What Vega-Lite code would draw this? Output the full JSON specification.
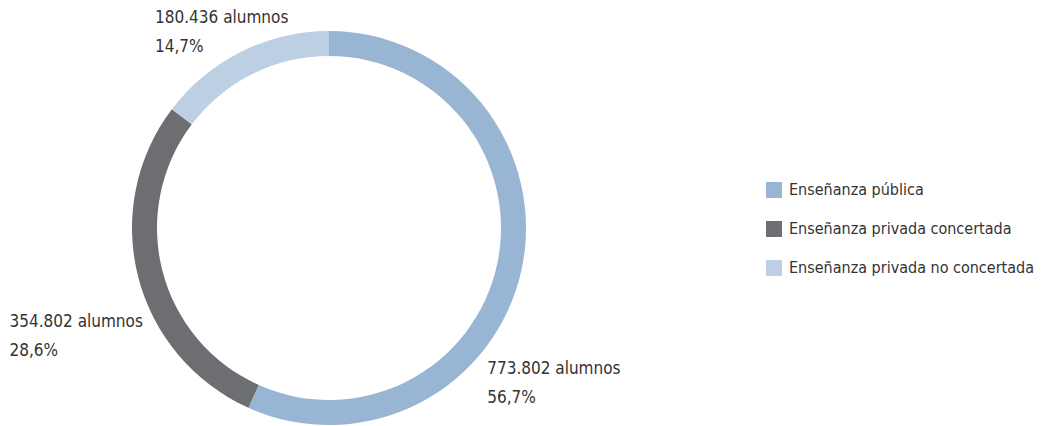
{
  "$schema": "https://vega.github.io/schema/vega-lite/v6.json",
  "width": 658,
  "height": 396,
  "autosize": {"type": "none"},
  "padding": {"top": 30, "left": 0, "right": 392, "bottom": 0},
  "background": "white",
  "config": {
    "view": {"stroke": null},
    "font": "Liberation Sans Narrow, DejaVu Sans Condensed, sans-serif"
  },
  "data": {
    "values": [
      {"tipo": "Enseñanza pública", "alumnos": 773802, "pct": 56.7, "etiqueta": "773.802 alumnos\n56,7%"},
      {"tipo": "Enseñanza privada concertada", "alumnos": 354802, "pct": 28.6, "etiqueta": "354.802 alumnos\n28,6%"},
      {"tipo": "Enseñanza privada no concertada", "alumnos": 180436, "pct": 14.7, "etiqueta": "180.436 alumnos\n14,7%"}
    ]
  },
  "encoding": {
    "theta": {"field": "pct", "type": "quantitative", "stack": true},
    "order": {"field": "pct", "type": "quantitative", "sort": "descending"}
  },
  "layer": [
    {
      "mark": {"type": "arc", "outerRadius": 197, "innerRadius": 172, "stroke": null},
      "encoding": {
        "color": {
          "field": "tipo",
          "type": "nominal",
          "scale": {
            "domain": ["Enseñanza pública", "Enseñanza privada concertada", "Enseñanza privada no concertada"],
            "range": ["#98b5d4", "#6d6e72", "#bdcfe3"]
          },
          "legend": {
            "title": null,
            "orient": "none",
            "legendX": 766,
            "legendY": 152,
            "symbolType": "square",
            "symbolSize": 256,
            "symbolStrokeWidth": 0,
            "symbolOpacity": 1,
            "labelFontSize": 16,
            "labelColor": "#333333",
            "labelOffset": 7,
            "rowPadding": 23,
            "labelLimit": 400
          }
        }
      }
    },
    {
      "mark": {"type": "text", "radius": 212, "thetaOffset": 0.518, "align": "left", "baseline": "middle", "fontSize": 17, "lineHeight": 29, "lineBreak": "\n", "color": "#333333"},
      "encoding": {
        "text": {"condition": {"test": "datum.tipo === 'Enseñanza pública'", "field": "etiqueta"}, "value": ""}
      }
    },
    {
      "mark": {"type": "text", "radius": 333, "thetaOffset": -0.035, "align": "left", "baseline": "middle", "fontSize": 17, "lineHeight": 29, "lineBreak": "\n", "color": "#333333"},
      "encoding": {
        "text": {"condition": {"test": "datum.tipo === 'Enseñanza privada concertada'", "field": "etiqueta"}, "value": ""}
      }
    },
    {
      "mark": {"type": "text", "radius": 273, "thetaOffset": -0.229, "align": "left", "baseline": "middle", "fontSize": 17, "lineHeight": 29, "lineBreak": "\n", "color": "#333333"},
      "encoding": {
        "text": {"condition": {"test": "datum.tipo === 'Enseñanza privada no concertada'", "field": "etiqueta"}, "value": ""}
      }
    }
  ]
}
